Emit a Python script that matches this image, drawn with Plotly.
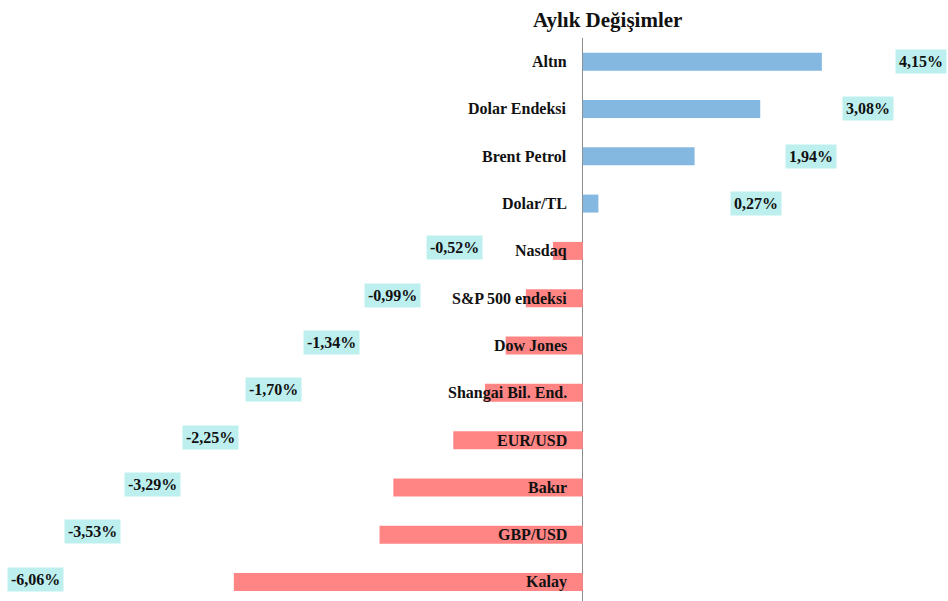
import plotly.graph_objects as go

categories = ["Altın", "Dolar Endeksi", "Brent Petrol", "Dolar/TL", "Nasdaq",
              "S&P 500 endeksi", "Dow Jones", "Shangai Bil. End.", "EUR/USD",
              "Bakır", "GBP/USD", "Kalay"]
values = [4.15, 3.08, 1.94, 0.27, -0.52, -0.99, -1.34, -1.70, -2.25, -3.29, -3.53, -6.06]
# where the data-label boxes sit (layout, in axis units)
label_pos = [5.87, 4.95, 3.96, 3.00, -2.22, -3.30, -4.36, -5.38, -6.46, -7.47, -8.51, -9.51]

BLUE = "#85B8E1"
RED = "#FF8585"
LABEL_BG = "#BDEFEF"
FONT = "Liberation Serif"

colors = [BLUE if v >= 0 else RED for v in values]

fig = go.Figure()
fig.add_trace(go.Bar(
    x=values, y=categories, orientation="h",
    marker=dict(color=colors, line=dict(width=0)),
    width=0.38, hoverinfo="x+y",
))

annotations = []
for c, v, p in zip(categories, values, label_pos):
    annotations.append(dict(
        x=0, y=c, xref="x", yref="y", text="<b>%s</b>" % c,
        showarrow=False, xanchor="right", xshift=-14,
        font=dict(family=FONT, size=16, color="#111111"),
    ))
    annotations.append(dict(
        x=p, y=c, xref="x", yref="y",
        text="<b>%s%%</b>" % ("%.2f" % v).replace(".", ","),
        showarrow=False, xanchor="center", yshift=0 if v >= 0 else 3,
        bgcolor=LABEL_BG, borderpad=3,
        font=dict(family=FONT, size=16, color="#111111"),
    ))

fig.update_layout(
    width=948, height=601,
    margin=dict(l=0, r=0, t=38, b=0),
    paper_bgcolor="white", plot_bgcolor="white",
    showlegend=False,
    title=dict(text="<b>Aylık Değişimler</b>", x=0.641, xanchor="center",
               y=0.968, yanchor="middle",
               font=dict(family=FONT, size=21, color="#111111")),
    xaxis=dict(range=[-10.12, 6.34], showgrid=False, showticklabels=False,
               zeroline=True, zerolinecolor="#8C8C8C", zerolinewidth=1,
               fixedrange=True),
    yaxis=dict(range=[11.40, -0.5], showgrid=False, showticklabels=False,
               zeroline=False, fixedrange=True),
    annotations=annotations,
)

fig.write_html("out.html", config={"displayModeBar": False},
               post_script="document.body.style.margin='0px';")
